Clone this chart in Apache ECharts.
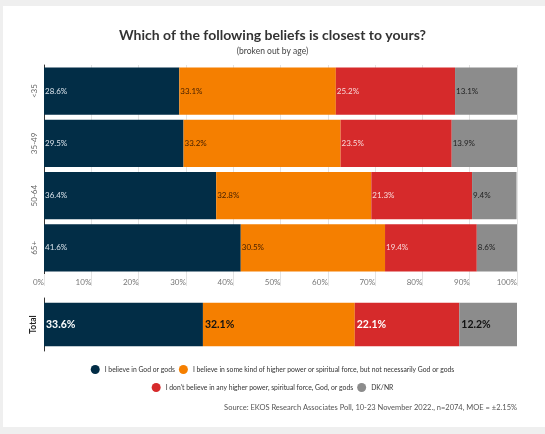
<!DOCTYPE html>
<html>
<head>
<meta charset="utf-8">
<script src="https://cdn.jsdelivr.net/npm/echarts@6/dist/echarts.min.js"></script>
<style>
  html, body { margin: 0; padding: 0; }
  #chart { width: 545px; height: 434px; }
</style>
</head>
<body>
<div id="chart"></div>
<script>
// age groups and total
var ageGroups = ["<35", "35-49", "50-64", "65+"];
var totalLabel = ["Total"];
var seriesNames = [
  "I believe in God or gods",
  "I believe in some kind of higher power or spiritual force, but not necessarily God or gods",
  "I don't believe in any higher power, spiritual force, God, or gods",
  "DK/NR"
];
var godValues = [28.6, 29.5, 36.4, 41.6];
var higherValues = [33.1, 33.2, 32.8, 30.5];
var noneValues = [25.2, 23.5, 21.3, 19.4];
var dkValues = [13.1, 13.9, 9.4, 8.6];
var totalValues = [33.6, 32.1, 22.1, 12.2];
var tickLabels = ["0%", "10%", "20%", "30%", "40%", "50%", "60%", "70%", "80%", "90%", "100%"];

var colors = ["#022d46", "#f57f00", "#d62a2b", "#8c8c8c"];
var labelColors = ["#dce4ec", "#4a2200", "#f8dada", "#222222"];
var totalLabelColors = ["#ffffff", "#111111", "#ffffff", "#111111"];
var FONT = "Lato";

function drawChart() {
  var myChart = echarts.init(document.getElementById("chart"));
  var ageData = [godValues, higherValues, noneValues, dkValues];

  var series = [];
  // 年龄分组
  ageData.forEach(function (vals, i) {
    series.push({
      name: seriesNames[i],
      type: "bar",
      stack: "age",
      xAxisIndex: 0,
      yAxisIndex: 0,
      barCategoryGap: "10%",
      data: vals,
      itemStyle: { color: colors[i] },
      label: {
        show: true,
        position: "insideLeft",
        distance: 1,
        formatter: function (p) { return p.value.toFixed(1) + "%"; },
        color: labelColors[i],
        fontSize: 8,
        fontFamily: FONT
      }
    });
  });
  // 总计
  totalValues.forEach(function (v, i) {
    series.push({
      name: seriesNames[i],
      type: "bar",
      stack: "total",
      xAxisIndex: 1,
      yAxisIndex: 1,
      barCategoryGap: "18%",
      data: [v],
      itemStyle: { color: colors[i] },
      label: {
        show: true,
        position: "insideLeft",
        distance: 2,
        formatter: function (p) { return p.value.toFixed(1) + "%"; },
        color: totalLabelColors[i],
        fontSize: 10.5,
        fontWeight: "bold",
        fontFamily: FONT
      }
    });
  });

  var legendText = { fontFamily: FONT, fontSize: 6.8, color: "#333333", padding: 0 };

  var option = {
    backgroundColor: "#efefef",
    animation: false,
    graphic: [
      {
        type: "rect",
        z: -10,
        shape: { x: 3, y: 6, width: 542, height: 421 },
        style: { fill: "#ffffff" }
      }
    ],
    title: [
      {
        text: "Which of the following beliefs is closest to yours?",
        left: "center",
        top: 23,
        textStyle: { fontFamily: FONT, fontSize: 14, fontWeight: "bold", color: "#333333" }
      },
      {
        text: "(broken out by age)",
        left: "center",
        top: 42,
        textStyle: { fontFamily: FONT, fontSize: 8.5, fontWeight: "normal", color: "#444444" }
      },
      {
        text: "Source: EKOS Research Associates Poll, 10-23 November 2022., n=2074, MOE = ±2.15%",
        right: 28,
        top: 404,
        padding: 0,
        textStyle: { fontFamily: FONT, fontSize: 7.5, fontWeight: "normal", color: "#555555" }
      }
    ],
    legend: [
      {
        data: seriesNames.slice(0, 2),
        left: "center",
        top: 365,
        icon: "circle",
        itemWidth: 9,
        itemHeight: 9,
        itemGap: 4,
        padding: 0,
        textStyle: legendText
      },
      {
        data: seriesNames.slice(2),
        left: "center",
        top: 383,
        icon: "circle",
        itemWidth: 9,
        itemHeight: 9,
        itemGap: 4,
        padding: 0,
        textStyle: legendText
      }
    ],
    grid: [
      { left: 44, right: 28, top: 65, height: 209 },
      { left: 44, right: 28, top: 298, height: 53 }
    ],
    xAxis: [
      {
        gridIndex: 0,
        type: "value",
        min: 0,
        max: 100,
        interval: 10,
        axisLine: { show: false },
        axisTick: { show: true, length: 12, lineStyle: { color: "#e3e3e3" } },
        splitLine: { show: true, lineStyle: { color: "#e3e3e3" } },
        axisLabel: {
          align: "right",
          margin: 4,
          color: "#777777",
          fontSize: 8,
          fontFamily: FONT,
          formatter: function (v) { return tickLabels[Math.round(v / 10)]; }
        }
      },
      {
        gridIndex: 1,
        type: "value",
        min: 0,
        max: 100,
        show: false
      }
    ],
    yAxis: [
      {
        gridIndex: 0,
        type: "category",
        data: ageGroups,
        inverse: true,
        axisLine: { show: true, lineStyle: { color: "#333333" } },
        axisTick: { show: false },
        axisLabel: { rotate: 90, margin: 6, color: "#666666", fontSize: 8, fontFamily: FONT }
      },
      {
        gridIndex: 1,
        type: "category",
        data: totalLabel,
        axisLine: { show: true, lineStyle: { color: "#333333" } },
        axisTick: { show: false },
        axisLabel: { rotate: 90, margin: 6, color: "#222222", fontSize: 8.5, fontWeight: "bold", fontFamily: FONT }
      }
    ],
    series: series
  };

  myChart.setOption(option);
  window.addEventListener("resize", function () {
    myChart.resize();
  });
}

// 先加载字体再绘图
if (document.fonts && document.fonts.load) {
  Promise.all([
    document.fonts.load("8px Lato"),
    document.fonts.load("bold 8px Lato")
  ]).then(drawChart, drawChart);
} else {
  drawChart();
}
</script>
</body>
</html>
